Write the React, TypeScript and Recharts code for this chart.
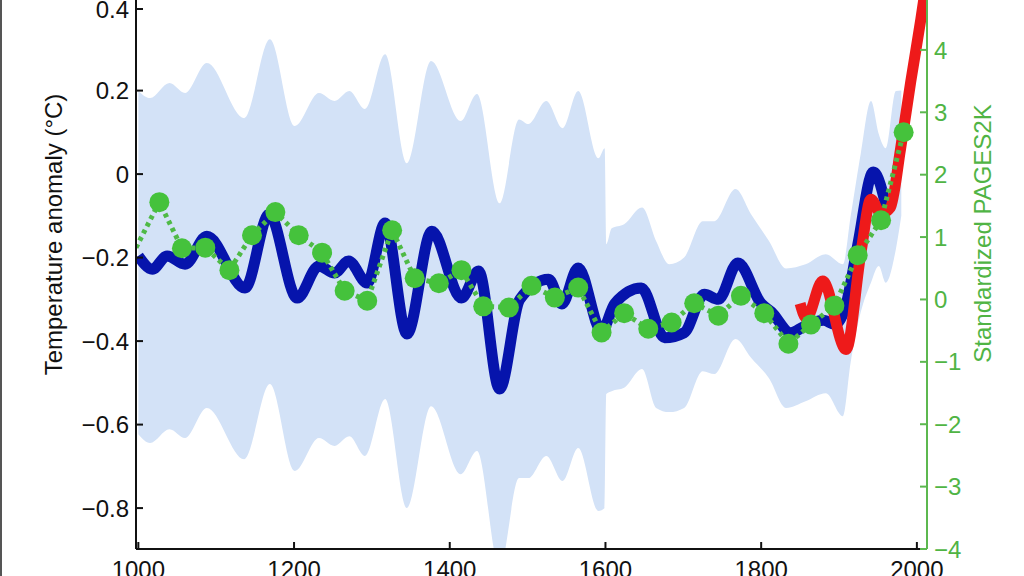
import { ComposedChart, Line, Area, XAxis, YAxis } from "recharts";

// reconstruction (blue), °C
const reconYears = [1000, 1018, 1037, 1060, 1088, 1137, 1168, 1204, 1232, 1252, 1270, 1294, 1317, 1345, 1377, 1415, 1437, 1464, 1490, 1527, 1544, 1565, 1595, 1612, 1646, 1676, 1701, 1727, 1745, 1770, 1800, 1813, 1838, 1855, 1880, 1895, 1908, 1924, 1944, 1962];
const reconValues = [-0.196, -0.228, -0.196, -0.216, -0.149, -0.273, -0.096, -0.297, -0.22, -0.237, -0.208, -0.261, -0.117, -0.383, -0.137, -0.297, -0.232, -0.515, -0.3, -0.252, -0.311, -0.225, -0.376, -0.31, -0.273, -0.392, -0.38, -0.288, -0.3, -0.213, -0.31, -0.33, -0.38, -0.365, -0.35, -0.36, -0.32, -0.17, 0.005, -0.09];

// instrumental (red), °C
const instYears = [1850, 1858, 1879, 1909, 1928, 1941, 1954, 1966, 1979, 1992, 2005, 2013];
const instValues = [-0.31, -0.345, -0.256, -0.42, -0.19, -0.06, -0.095, -0.08, 0.06, 0.22, 0.37, 0.47];

// PAGES2K (green), standardized units
const pagesYears = [997, 1027, 1056, 1086, 1117, 1146, 1176, 1206, 1236, 1265, 1294, 1326, 1355, 1386, 1415, 1443, 1476, 1505, 1535, 1565, 1595, 1624, 1655, 1685, 1714, 1745, 1774, 1804, 1835, 1864, 1894, 1924, 1954, 1983];
const pagesValues = [0.83, 1.56, 0.82, 0.83, 0.47, 1.03, 1.4, 1.03, 0.75, 0.14, -0.02, 1.11, 0.34, 0.26, 0.47, -0.11, -0.13, 0.22, 0.03, 0.19, -0.53, -0.22, -0.47, -0.37, -0.06, -0.26, 0.06, -0.22, -0.71, -0.4, -0.1, 0.71, 1.27, 2.68];

// uncertainty band, °C
const bandYears = [1000, 1015, 1040, 1060, 1088, 1136, 1169, 1201, 1232, 1252, 1271, 1291, 1317, 1345, 1376, 1414, 1435, 1464, 1489, 1501, 1524, 1545, 1565, 1591, 1599, 1601, 1608, 1624, 1647, 1665, 1682, 1701, 1725, 1740, 1767, 1787, 1810, 1832, 1857, 1883, 1905, 1915, 1928, 1941, 1951, 1960, 1973, 1980];
const bandHigh = [0.199, 0.182, 0.218, 0.194, 0.266, 0.134, 0.323, 0.115, 0.194, 0.175, 0.199, 0.156, 0.287, 0.026, 0.271, 0.127, 0.192, -0.07, 0.131, 0.12, 0.175, 0.11, 0.199, 0.038, 0.062, -0.168, -0.13, -0.12, -0.08, -0.16, -0.216, -0.2, -0.113, -0.113, -0.036, -0.096, -0.16, -0.226, -0.216, -0.192, -0.216, -0.1, 0.05, 0.175, 0.096, 0.062, 0.199, 0.2];
const bandLow = [-0.623, -0.644, -0.611, -0.632, -0.56, -0.683, -0.503, -0.711, -0.632, -0.651, -0.628, -0.675, -0.539, -0.8, -0.556, -0.719, -0.663, -0.944, -0.728, -0.728, -0.675, -0.735, -0.656, -0.807, -0.8, -0.527, -0.52, -0.512, -0.467, -0.56, -0.57, -0.56, -0.472, -0.479, -0.395, -0.44, -0.489, -0.56, -0.544, -0.525, -0.58, -0.45, -0.33, -0.26, -0.22, -0.26, -0.18, -0.1];

const xTicks = [1000, 1200, 1400, 1600, 1800, 2000];
const leftTicks = [-0.8, -0.6, -0.4, -0.2, 0, 0.2, 0.4];
const rightTicks = [-4, -3, -2, -1, 0, 1, 2, 3, 4];

const FONT = "'Liberation Sans', Arial, sans-serif";
const BLACK = "#111";
const GREEN_AXIS = "#5cb84f";
const GREEN_TEXT = "#50b444";
const GREEN_DOT = "#45c23c";
const BLUE = "#0614ac";
const RED = "#ee1a1a";
const BAND = "#d3e2f7";

const recon = reconYears.map((year, i) => ({ year, v: reconValues[i] }));
const inst = instYears.map((year, i) => ({ year, v: instValues[i] }));
const pages = pagesYears.map((year, i) => ({ year, v: pagesValues[i] }));
const band = bandYears.map((year, i) => ({ year, range: [bandLow[i], bandHigh[i]] }));

const fmt = (v: number) => (v < 0 ? "\u2212" + String(Math.abs(v)) : String(v));

const XTick = ({ x, y, payload }: any) => (
  <g>
    <line x1={x} y1={y} x2={x} y2={y - 7} stroke={BLACK} strokeWidth={2} />
    <text x={x} y={y + 29} textAnchor="middle" fontSize={24} fontFamily={FONT} fill={BLACK}>
      {payload.value}
    </text>
  </g>
);

const LeftTick = ({ x, y, payload }: any) => (
  <g>
    <line x1={x} y1={y} x2={x + 7} y2={y} stroke={BLACK} strokeWidth={2} />
    <text x={x - 7} y={y} dy="0.36em" textAnchor="end" fontSize={24} fontFamily={FONT} fill={BLACK}>
      {fmt(payload.value)}
    </text>
  </g>
);

const RightTick = ({ x, y, payload }: any) => (
  <g>
    <line x1={x} y1={y} x2={x - 7} y2={y} stroke={GREEN_AXIS} strokeWidth={2} />
    <text x={x + 7} y={y} dy="0.36em" textAnchor="start" fontSize={24} fontFamily={FONT} fill={GREEN_TEXT}>
      {fmt(payload.value)}
    </text>
  </g>
);

const LeftTitle = ({ viewBox }: any) => {
  const cx = viewBox.x + 53;
  const cy = viewBox.y + viewBox.height / 2 - 40;
  return (
    <text x={cx} y={cy} transform={`rotate(-90, ${cx}, ${cy})`} textAnchor="middle" dominantBaseline="central" fontSize={24} fontFamily={FONT} fill={BLACK}>
      Temperature anomaly (°C)
    </text>
  );
};

const RightTitle = ({ viewBox }: any) => {
  const cx = viewBox.x + 55;
  const cy = viewBox.y + viewBox.height / 2 - 41;
  return (
    <text x={cx} y={cy} transform={`rotate(-90, ${cx}, ${cy})`} textAnchor="middle" dominantBaseline="central" fontSize={24} fontFamily={FONT} fill={GREEN_TEXT}>
      Standardized PAGES2K
    </text>
  );
};

const PagesDot = ({ cx, cy, index }: any) => {
  if (index === 0) return <g key={index} />;
  return <circle key={index} cx={cx} cy={cy} r={10} fill={GREEN_DOT} />;
};

export default function App() {
  return (
    <div style={{ position: "fixed", left: 0, top: 0, width: 1024, height: 576, overflow: "hidden", background: "#fff", borderLeft: "2px solid #555", boxSizing: "border-box" }}>
      <ComposedChart width={1022} height={600} margin={{ top: 0, right: 0, bottom: 11, left: -2 }}>
        <XAxis
          dataKey="year"
          type="number"
          domain={[997, 2013]}
          ticks={xTicks}
          allowDataOverflow
          height={40}
          tickSize={0}
          tickMargin={0}
          axisLine={{ stroke: BLACK, strokeWidth: 2 }}
          tickLine={false}
          tick={<XTick />}
        />
        <YAxis
          yAxisId="left"
          type="number"
          domain={[-0.898, 0.417]}
          ticks={leftTicks}
          allowDataOverflow
          width={136}
          tickSize={0}
          tickMargin={0}
          axisLine={{ stroke: BLACK, strokeWidth: 2 }}
          tickLine={false}
          tick={<LeftTick />}
          label={<LeftTitle />}
        />
        <YAxis
          yAxisId="right"
          orientation="right"
          type="number"
          domain={[-4, 4.8]}
          ticks={rightTicks}
          allowDataOverflow
          width={97}
          tickSize={0}
          tickMargin={0}
          axisLine={{ stroke: GREEN_AXIS, strokeWidth: 2 }}
          tickLine={false}
          tick={<RightTick />}
          label={<RightTitle />}
        />
        <Area
          yAxisId="left"
          data={band}
          dataKey="range"
          type="monotone"
          stroke="none"
          fill={BAND}
          fillOpacity={1}
          isAnimationActive={false}
        />
        <Line yAxisId="left" data={recon} dataKey="v" type="monotone" stroke={BLUE} strokeWidth={11} dot={false} isAnimationActive={false} />
        <Line yAxisId="left" data={inst} dataKey="v" type="monotone" stroke={RED} strokeWidth={11} dot={false} isAnimationActive={false} />
        <Line
          yAxisId="right"
          data={pages}
          dataKey="v"
          type="linear"
          stroke="#4fba46"
          strokeWidth={5}
          strokeDasharray="4 4"
          dot={<PagesDot />}
          isAnimationActive={false}
        />
      </ComposedChart>
    </div>
  );
}
